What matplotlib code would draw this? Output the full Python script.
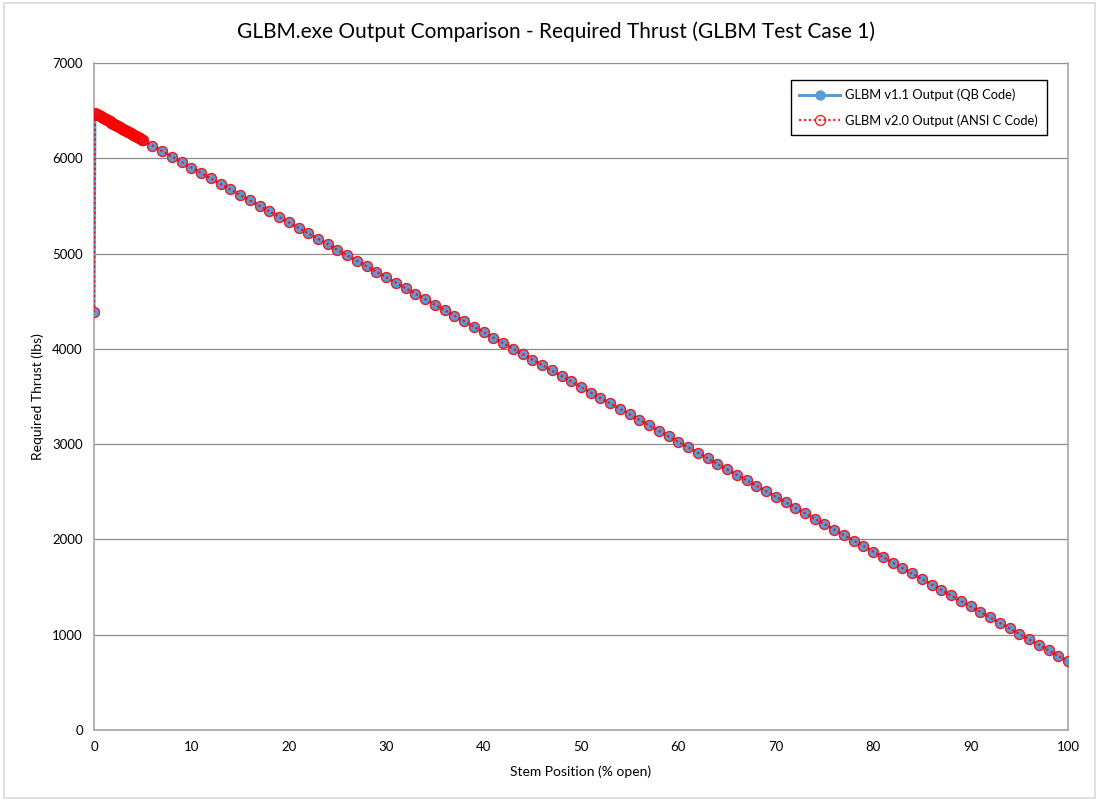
import matplotlib
matplotlib.use("Agg")
import matplotlib.pyplot as plt
from matplotlib.patches import Rectangle

plt.rcParams["font.family"] = ["Lato", "DejaVu Sans"]

# stem position (% open): closed, fine steps to 5 %, then whole percents
stem_closed = [0.0]
stem_fine = [round(0.1 * k, 1) for k in range(1, 51)]
stem_coarse = list(range(6, 101))

thrust_closed = [4390]
thrust_fine = [
    6475, 6469, 6464, 6458, 6452, 6446, 6441, 6435, 6429, 6423,
    6418, 6412, 6406, 6400, 6395, 6389, 6383, 6377, 6372, 6366,
    6360, 6354, 6349, 6343, 6337, 6331, 6325, 6320, 6314, 6308,
    6302, 6297, 6291, 6285, 6279, 6274, 6268, 6262, 6256, 6251,
    6245, 6239, 6233, 6228, 6222, 6216, 6210, 6205, 6199, 6193,
]
thrust_coarse = [
    6135, 6078, 6020, 5963, 5905, 5847, 5790, 5732, 5675, 5617,
    5559, 5502, 5444, 5387, 5329, 5271, 5214, 5156, 5099, 5041,
    4983, 4926, 4868, 4811, 4753, 4695, 4638, 4580, 4523, 4465,
    4407, 4350, 4292, 4235, 4177, 4119, 4062, 4004, 3947, 3889,
    3831, 3774, 3716, 3659, 3601, 3543, 3486, 3428, 3371, 3313,
    3255, 3198, 3140, 3083, 3025, 2967, 2910, 2852, 2795, 2737,
    2679, 2622, 2564, 2507, 2449, 2391, 2334, 2276, 2219, 2161,
    2103, 2046, 1988, 1931, 1873, 1815, 1758, 1700, 1643, 1585,
    1527, 1470, 1412, 1355, 1297, 1239, 1182, 1124, 1067, 1009,
    951, 894, 836, 779, 721,
]

stem = stem_closed + stem_fine + stem_coarse
thrust_qb = thrust_closed + thrust_fine + thrust_coarse
thrust_c = list(thrust_qb)  # v2.0 reproduces v1.1 output

fig = plt.figure(figsize=(10.99, 8.0), dpi=100)
fig.patches.append(Rectangle((0.004, 0.003), 0.992, 0.993, transform=fig.transFigure,
                             fill=False, edgecolor="#d9d9d9", linewidth=1.2))
ax = fig.add_axes([0.0855, 0.0875, 0.8863, 0.8335])

ax.plot(stem, thrust_qb, color="#5b9bd5", linewidth=2.2, marker="o",
        markersize=6.5, markerfacecolor="#5b9bd5", markeredgecolor="#5b9bd5",
        label="GLBM v1.1 Output (QB Code)", zorder=3)
ax.plot(stem, thrust_c, color="#ff0000", linewidth=1.6, linestyle=(0, (1, 1.2)),
        marker="o", markersize=7.2, markerfacecolor="none", markeredgecolor="#ff0000",
        markeredgewidth=1.0, alpha=0.85,
        label="GLBM v2.0 Output (ANSI C Code)", zorder=4)

ax.set_xlim(0, 100)
ax.set_ylim(0, 7000)
ax.set_xticks(range(0, 101, 10))
ax.set_yticks(range(0, 7001, 1000))
ax.yaxis.grid(True, color="#8c8c8c", linewidth=0.9)
ax.set_axisbelow(True)
ax.tick_params(length=0, labelsize=9.5, pad=8)
for side in ["left", "bottom", "right"]:
    ax.spines[side].set_color("#a6a6a6")
    ax.spines[side].set_linewidth(1.2)
ax.spines["top"].set_visible(False)

fig.suptitle("GLBM.exe Output Comparison - Required Thrust (GLBM Test Case 1)",
             x=0.506, y=0.96, va="center", fontsize=15)
ax.set_xlabel("Stem Position (% open)", fontsize=10, labelpad=9)
ax.set_ylabel("Required Thrust (lbs)", fontsize=10, labelpad=6)

leg = ax.legend(loc="upper right", bbox_to_anchor=(0.982, 0.98), fontsize=9.3,
                fancybox=False, framealpha=1, edgecolor="black",
                handlelength=3.2, handletextpad=0.4, borderpad=0.65,
                borderaxespad=0.3, labelspacing=1.0)
leg.get_frame().set_linewidth(1.0)

plt.savefig("out.png", dpi=100)
